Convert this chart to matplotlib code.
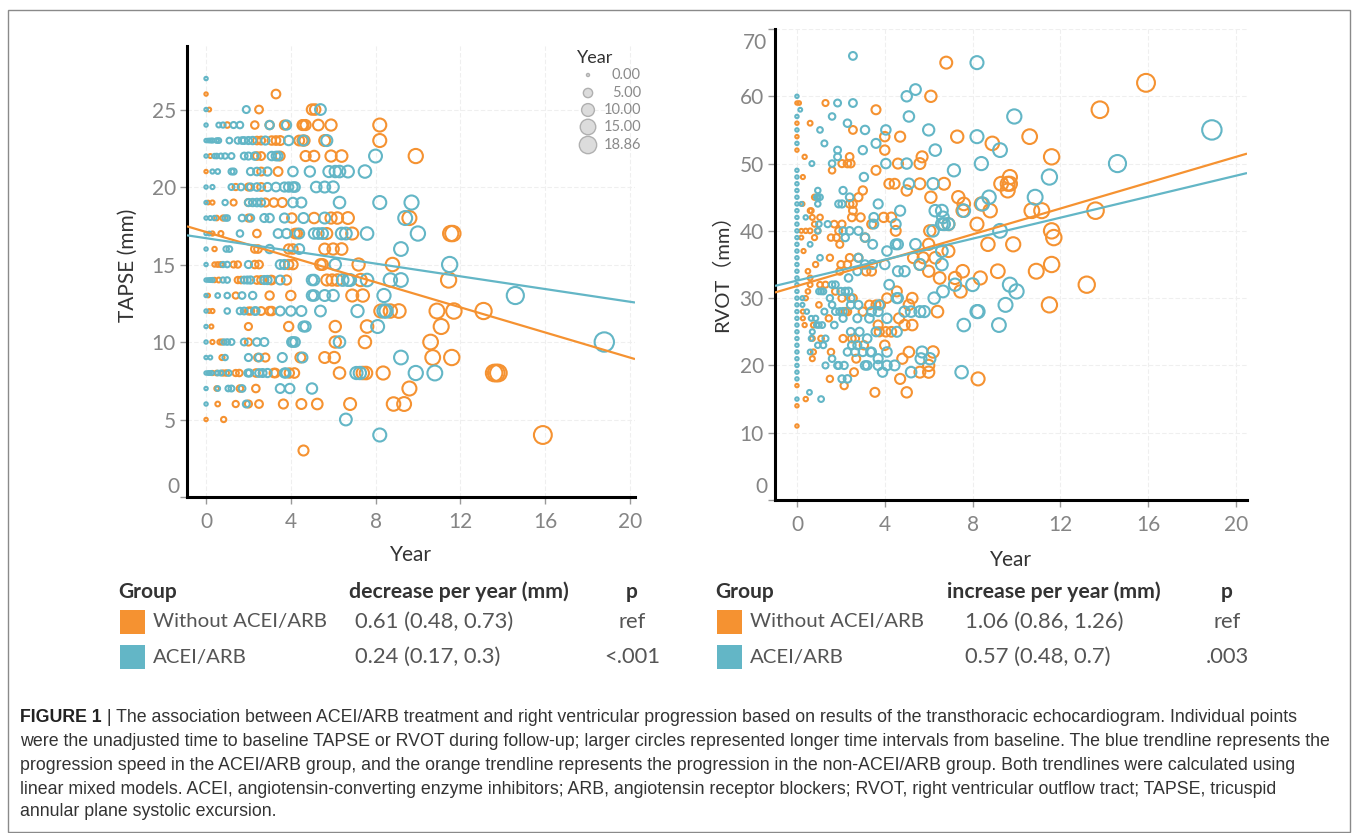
import matplotlib
matplotlib.use("Agg")
import matplotlib.pyplot as plt
from matplotlib.patches import Rectangle
import numpy as np

# ---------------- DATA ----------------
ORANGE = "#F59231"
BLUE = "#63B6C6"

# TAPSE panel: value (mm) -> list of years
tapse_orange_rows = {
    26: [0, 3.3],
    25: [0.15, 2.5, 5.0, 5.15],
    24: [1.0, 2.3, 3.0, 3.7, 4.55, 4.6, 4.7, 5.3, 5.9, 8.2],
    23: [2.4, 2.6, 3.1, 3.3, 3.5, 4.4, 4.55, 4.65, 5.6, 8.2],
    22: [0.2, 2.4, 2.6, 3.5, 4.7, 5.1, 5.9, 6.4, 9.9],
    21: [0, 2.6, 3.4],
    20: [1.4, 2.0, 2.6],
    19: [0.1, 0.3, 1.3, 2.0, 2.8, 3.2, 3.6],
    18: [0.5, 0.8, 2.0, 4.05, 5.1, 5.9, 6.2, 6.7, 9.6],
    17: [0.3, 0.7, 2.4, 4.2, 4.3, 5.7, 6.9, 11.55, 11.65],
    16: [0.4, 2.3, 2.45, 3.9, 4.1, 5.6, 6.0, 6.4],
    15: [0.4, 0.55, 0.7, 1.3, 1.5, 2.3, 2.5, 3.9, 4.1, 5.4, 5.5, 7.2, 8.8],
    14: [0.4, 0.6, 1.5, 1.65, 2.4, 2.6, 3.05, 3.1, 3.8, 5.7, 5.95, 6.2, 7.3, 11.45],
    13: [0.1, 1.4, 3.0, 4.0, 6.9, 7.4],
    12: [0.15, 0.3, 2.0, 2.1, 2.6, 3.0, 3.1, 8.25, 8.7, 9.1, 10.9, 11.7, 13.1],
    11: [0.25, 2.0, 3.9, 6.1, 7.6, 11.1],
    10: [0.3, 0.65, 0.75, 2.0, 6.1, 7.5, 10.6],
    9: [0.75, 2.45, 2.8, 4.45, 5.6, 6.05, 10.7, 11.6],
    8: [0.3, 0.5, 0.8, 0.95, 1.4, 1.57, 2.36, 3.2, 3.27, 3.93, 4.17, 6.3, 7.4,
        7.55, 8.36, 13.6, 13.7, 13.8],
    7: [0.5, 1.6, 2.35, 9.6],
    6: [0.55, 1.4, 2.0, 2.5, 3.65, 4.5, 5.25, 6.8, 8.85, 9.35],
    5: [0, 0.83],
    4: [15.9],
    3: [4.6],
}
tapse_blue_rows = {
    27: [0],
    25: [0, 1.9, 5.4],
    24: [0, 0.6, 0.8, 1.3, 1.6, 3.0, 3.8],
    23: [0, 0.1, 0.2, 0.3, 0.5, 0.6, 1.1, 1.5, 1.7, 1.8, 2.0, 2.2, 2.8, 3.9, 4.6, 5.7],
    22: [0, 0.4, 0.5, 0.7, 0.9, 1.2, 1.8, 2.0, 2.3, 3.1, 3.3, 3.4, 8.0],
    21: [0.3, 0.55, 1.2, 1.3, 2.1, 2.4, 2.9, 4.1, 4.9, 5.8, 6.1, 6.3, 6.7, 7.5],
    20: [0, 0.3, 1.2, 1.65, 2.1, 2.4, 2.9, 3.3, 3.7, 3.9, 4.1, 4.2, 5.2, 5.6, 6.0],
    19: [0, 0.9, 2.0, 2.2, 2.4, 2.6, 4.1, 4.5, 6.3, 8.2, 9.7],
    18: [0, 0.2, 0.4, 0.9, 1.0, 1.7, 2.1, 2.75, 3.0, 3.7, 4.6, 5.6, 9.4],
    17: [0, 0.15, 1.6, 3.4, 3.8, 4.4, 5.1, 5.3, 5.5, 6.4, 6.6, 7.6, 10.0],
    16: [0, 0.95, 1.1, 3.0, 4.4, 9.2],
    15: [0, 0.8, 1.0, 2.0, 3.5, 3.7, 6.1, 11.5],
    14: [0, 0.1, 0.2, 0.3, 0.8, 1.0, 1.8, 1.95, 2.1, 2.75, 2.9, 3.5, 5.0, 5.1,
         6.45, 6.7, 6.8, 7.6, 8.7, 9.2],
    13: [0, 0.55, 1.0, 1.7, 2.2, 5.0, 5.1, 5.6, 6.0, 8.4, 14.6],
    12: [0, 1.0, 1.6, 1.8, 2.3, 2.35, 3.5, 4.0, 4.5, 5.4, 7.15, 8.4, 8.5],
    11: [0, 4.6, 4.7, 8.1],
    10: [0, 0.85, 1.0, 1.2, 1.8, 2.4, 2.75, 4.05, 4.1, 4.2, 6.3, 18.8],
    9: [0, 0.2, 0.9, 2.0, 2.5, 3.6, 4.55, 9.2],
    8: [0, 0.1, 0.15, 0.25, 0.55, 0.7, 1.07, 1.97, 2.05, 2.5, 2.67, 2.9, 3.7,
        3.77, 7.1, 7.26, 9.9, 10.8],
    7: [0, 0.55, 1.05, 1.2, 1.7, 3.5, 3.95, 5.0],
    6: [0, 1.9],
    5: [6.6],
    4: [8.2],
}

# RVOT panel: (year, value mm)
rvot_orange = [
    (6.8, 65), (15.9, 62), (13.8, 58), (11.6, 51), (10.6, 54), (8.9, 53), (7.3, 54),
    (6.1, 60), (5.7, 51), (5.6, 50), (4.7, 54), (4.0, 54), (4.0, 52), (3.6, 58),
    (2.55, 55), (4.6, 50), (3.6, 49), (4.2, 47), (4.45, 47), (5.6, 47), (6.7, 47),
    (5.0, 46), (6.1, 45), (7.35, 45), (7.6, 44), (8.4, 44), (8.8, 43), (7.55, 43),
    (9.7, 48), (9.6, 47), (9.7, 47), (9.6, 46), (9.3, 47), (10.7, 43), (11.15, 43),
    (13.6, 43), (11.6, 40), (11.7, 39), (9.85, 38), (8.7, 38), (8.2, 41), (6.9, 41),
    (6.05, 40), (3.95, 42), (4.3, 42), (4.5, 40), (3.4, 41), (2.8, 45), (3.0, 46),
    (2.55, 44), (2.4, 44), (2.55, 43), (2.5, 42), (2.9, 42), (1.7, 41), (2.05, 41),
    (1.9, 40), (1.55, 39), (1.8, 39), (3.1, 39), (6.0, 38), (1.95, 38), (0.8, 39),
    (0.6, 40), (0.95, 40), (0.4, 40), (0.8, 41), (1.05, 42), (0.7, 42), (0.6, 43),
    (0.8, 45), (1.6, 49), (2.05, 50), (2.3, 50), (2.45, 50), (2.4, 51), (0.6, 56),
    (1.3, 59), (0.35, 51), (0, 59), (0.1, 59), (0, 56), (0, 54), (0, 52), (0.27, 48),
    (0.25, 44), (0.65, 43), (0.2, 40), (0.2, 39),
    (13.2, 32), (11.6, 35), (10.9, 34), (11.5, 29), (9.15, 34), (8.35, 33), (7.55, 34),
    (8.25, 18), (7.2, 33), (7.45, 31), (6.5, 33), (6.0, 34), (6.4, 28), (6.2, 22),
    (6.0, 20), (6.0, 19), (5.6, 19), (5.1, 22), (4.8, 21), (4.7, 18), (5.0, 16),
    (3.55, 16), (4.0, 23), (2.6, 19), (2.15, 17), (1.5, 18), (2.7, 21), (1.55, 22),
    (3.05, 23), (2.1, 24), (2.5, 24), (2.65, 24), (3.7, 26), (3.75, 25), (4.05, 25),
    (4.3, 25), (4.65, 27), (4.9, 26), (5.25, 26), (1.45, 27), (1.0, 29), (2.2, 28),
    (2.3, 28), (3.3, 29), (3.6, 29), (3.0, 28), (5.1, 29), (5.25, 30), (4.1, 30),
    (4.55, 31), (3.8, 29), (2.05, 30), (2.55, 30), (1.75, 31), (1.05, 32), (1.3, 32),
    (1.95, 34), (3.15, 34), (3.4, 34), (2.0, 35), (2.3, 35), (1.5, 36), (2.4, 36),
    (2.8, 36), (5.6, 35), (5.3, 36), (5.75, 36), (6.3, 36), (6.9, 37), (0, 17),
    (0, 14), (0, 11), (0.4, 15), (0.27, 28), (0.27, 27), (0.35, 26), (0.7, 24),
    (0.75, 22), (0.7, 21), (1.1, 24), (0.75, 26), (0.4, 30), (0.5, 31), (0.6, 33),
    (0.85, 35), (0.3, 37), (0.5, 34), (0.6, 32),
]
rvot_blue = [
    (2.55, 66), (8.2, 65), (18.9, 55), (14.6, 50), (11.5, 48), (9.9, 57), (9.25, 52),
    (8.2, 54), (8.4, 50), (7.15, 49), (5.4, 61), (5.0, 60), (5.1, 57), (6.0, 55),
    (6.3, 52), (5.0, 50), (4.05, 55), (3.6, 53), (3.1, 55), (2.3, 56), (3.0, 52),
    (4.05, 50), (3.05, 48), (5.1, 47), (6.2, 47), (8.75, 45), (8.45, 44), (7.6, 43),
    (6.3, 43), (6.6, 43), (10.85, 45), (9.25, 40), (6.6, 41), (6.7, 41), (6.9, 41),
    (6.65, 42), (6.2, 40), (4.7, 43), (3.7, 44), (3.5, 42), (3.5, 41), (4.5, 41),
    (2.4, 45), (2.1, 46), (1.9, 44), (2.05, 44), (1.4, 41), (2.1, 40), (2.4, 40),
    (2.8, 40), (2.2, 39), (3.1, 39), (3.45, 38), (4.5, 38), (4.6, 38), (5.4, 38),
    (0.6, 38), (0.95, 40), (0.4, 42), (1.0, 41), (0.95, 44), (0.9, 45), (0.95, 45),
    (1.05, 45), (0.95, 46), (1.6, 50), (1.85, 51), (1.85, 52), (1.25, 53), (1.05, 55),
    (1.6, 57), (1.85, 59), (2.55, 59), (0.68, 50),
    (0, 60), (0.15, 58), (0, 57), (0, 55), (0, 53), (0, 49), (0, 48), (0, 47), (0, 46),
    (0, 45), (0, 44), (0.2, 44), (0, 43), (0, 42), (0, 41), (0, 40), (0, 39), (0, 38),
    (0, 37), (0, 36), (0, 35), (0, 34), (0, 33), (0, 32), (0, 31), (0, 30), (0, 29),
    (0, 28), (0, 27), (0, 26), (0, 25), (0, 24), (0, 23), (0, 22), (0, 21), (0, 20),
    (0, 19), (0, 18), (0, 15), (0.57, 16), (1.1, 15),
    (9.7, 32), (10.0, 31), (9.5, 29), (9.2, 26), (8.0, 32), (8.2, 28), (8.25, 28),
    (7.6, 26), (7.5, 19), (7.2, 32), (6.6, 35), (6.65, 31), (6.25, 30), (5.7, 22),
    (5.65, 21), (6.05, 21), (5.2, 19), (4.45, 20), (4.1, 20), (3.9, 19), (3.7, 20),
    (4.1, 22), (3.7, 21), (3.4, 22), (3.1, 20), (3.2, 20), (2.15, 20), (1.9, 20),
    (1.85, 20), (1.3, 20), (1.6, 21), (2.3, 22), (2.65, 22), (3.0, 22), (3.35, 22),
    (2.5, 23), (2.75, 23), (3.2, 24), (2.45, 25), (2.85, 25), (3.6, 25), (4.55, 25),
    (4.1, 27), (3.3, 27), (1.7, 26), (2.75, 27), (2.1, 27), (2.05, 18), (2.3, 18),
    (1.25, 28), (1.75, 28), (1.95, 28), (2.1, 28), (2.45, 29), (3.4, 28), (3.7, 28),
    (3.75, 29), (4.9, 28), (5.2, 28), (5.6, 28), (5.8, 28), (4.55, 30), (4.6, 30),
    (4.2, 32), (4.6, 34), (4.9, 34), (2.45, 30), (2.8, 29), (1.5, 30), (1.6, 29),
    (2.0, 31), (2.2, 31), (2.35, 31), (1.0, 31), (1.1, 31), (1.2, 31), (1.6, 32),
    (1.75, 32), (2.35, 33), (2.75, 34), (3.1, 35), (3.45, 35), (4.0, 35), (1.05, 36),
    (2.8, 36), (5.6, 35), (6.6, 37), (4.1, 37), (0.25, 30), (0.25, 29), (0.45, 28),
    (0.65, 27), (0.85, 27), (0.65, 24), (0.95, 23), (1.2, 23), (1.3, 24), (0.9, 26),
    (1.0, 26), (1.15, 26), (0.6, 22), (0.7, 25),
]

# trendlines (intercept, slope)
tapse_trend_orange = (17.1, -0.405)
tapse_trend_blue = (16.7, -0.205)
rvot_trend_orange = (31.8, 0.96)
rvot_trend_blue = (32.6, 0.78)

legend_years = [0.00, 5.00, 10.00, 15.00, 18.86]
x_ticks = [0, 4, 8, 12, 16, 20]
tapse_yticks = [0, 5, 10, 15, 20, 25]
rvot_yticks = [0, 10, 20, 30, 40, 50, 60, 70]

tables = [
    {"metric": "decrease per year (mm)",
     "rows": [("Without ACEI/ARB", "0.61 (0.48, 0.73)", "ref"),
              ("ACEI/ARB", "0.24 (0.17, 0.3)", "<.001")]},
    {"metric": "increase per year (mm)",
     "rows": [("Without ACEI/ARB", "1.06 (0.86, 1.26)", "ref"),
              ("ACEI/ARB", "0.57 (0.48, 0.7)", ".003")]},
]

caption_lines = [
    "The association between ACEI/ARB treatment and right ventricular progression based on results of the transthoracic echocardiogram. Individual points",
    "were the unadjusted time to baseline TAPSE or RVOT during follow-up; larger circles represented longer time intervals from baseline. The blue trendline represents the",
    "progression speed in the ACEI/ARB group, and the orange trendline represents the progression in the non-ACEI/ARB group. Both trendlines were calculated using",
    "linear mixed models. ACEI, angiotensin-converting enzyme inhibitors; ARB, angiotensin receptor blockers; RVOT, right ventricular outflow tract; TAPSE, tricuspid",
    "annular plane systolic excursion.",
]

# ---------------- FIGURE ----------------
W, H = 1358, 833
plt.rcParams["font.family"] = ["Lato", "DejaVu Sans"]
fig = plt.figure(figsize=(W / 100, H / 100), dpi=100)

TICK_COL = "#858585"


def fx(x):
    return x / W


def fy(y):
    return 1 - y / H


def size(year):
    return 6 + 10.0 * np.asarray(year, dtype=float)


def rows_to_xy(rows):
    xs, ys = [], []
    for v, yrs in rows.items():
        for yr in yrs:
            xs.append(yr)
            ys.append(v)
    return np.array(xs), np.array(ys)


def style_axes(ax, xlim, ylim, yticks):
    ax.set_xlim(*xlim)
    ax.set_ylim(*ylim)
    ax.set_xticks(x_ticks)
    ax.set_yticks(yticks)
    for s in ["top", "right"]:
        ax.spines[s].set_visible(False)
    for s in ["left", "bottom"]:
        ax.spines[s].set_color("black")
        ax.spines[s].set_linewidth(2.2)
    ax.tick_params(axis="both", direction="out", length=5, width=1,
                   color="#999999", labelcolor=TICK_COL, labelsize=15)
    ax.tick_params(axis="x", pad=6)
    ax.tick_params(axis="y", pad=3)
    ax.grid(True, color="#efefef", linewidth=0.8, linestyle=(0, (4, 2)))
    ax.set_axisbelow(True)


# ---- Left panel: TAPSE ----
axL = fig.add_axes([fx(187), fy(497), fx(635 - 187), (497 - 46) / H])
style_axes(axL, (-0.9, 20.25), (0, 29.1), tapse_yticks)
for rows, col in [(tapse_orange_rows, ORANGE), (tapse_blue_rows, BLUE)]:
    xs, ys = rows_to_xy(rows)
    axL.scatter(xs, ys, s=size(xs), facecolors="none", edgecolors=col,
                linewidths=1.5, zorder=3)
xx = np.array(axL.get_xlim())
for (b0, b1), col in [(tapse_trend_orange, ORANGE), (tapse_trend_blue, BLUE)]:
    axL.plot(xx, b0 + b1 * xx, color=col, lw=1.6, zorder=4, solid_capstyle="butt")
axL.set_yticklabels([""] + [str(t) for t in tapse_yticks[1:]])

# ---- Right panel: RVOT ----
axR = fig.add_axes([fx(775), fy(500), fx(1247 - 775), (500 - 29) / H])
style_axes(axR, (-1.0, 20.5), (0, 70.0), rvot_yticks)
for data, col in [(rvot_orange, ORANGE), (rvot_blue, BLUE)]:
    arr = np.array(data, dtype=float)
    axR.scatter(arr[:, 0], arr[:, 1], s=size(arr[:, 0]), facecolors="none",
                edgecolors=col, linewidths=1.5, zorder=3)
xx = np.array(axR.get_xlim())
for (b0, b1), col in [(rvot_trend_orange, ORANGE), (rvot_trend_blue, BLUE)]:
    axR.plot(xx, b0 + b1 * xx, color=col, lw=1.6, zorder=4, solid_capstyle="butt")
axR.set_yticklabels([""] + [str(t) for t in rvot_yticks[1:-1]] + [""])

# end tick labels shifted inside (Tableau style)
fig.text(fx(179), fy(487), "0", ha="right", va="center", fontsize=15, color=TICK_COL)
fig.text(fx(767), fy(487), "0", ha="right", va="center", fontsize=15, color=TICK_COL)
fig.text(fx(767), fy(43), "70", ha="right", va="center", fontsize=15, color=TICK_COL)

# axis titles
fig.text(fx(411), fy(555), "Year", ha="center", va="center", fontsize=15, color="#333333")
fig.text(fx(1011), fy(560), "Year", ha="center", va="center", fontsize=15, color="#333333")
fig.text(fx(128), fy(265), "TAPSE (mm)", ha="center", va="center", rotation=90,
         fontsize=15, color="#333333")
fig.text(fx(722), fy(268), "RVOT\uff08mm\uff09", ha="center", va="center", rotation=90,
         fontsize=14.5, color="#333333", family=["Lato", "Noto Sans CJK SC"])

# size legend (left panel)
fig.text(fx(595), fy(58), "Year", ha="center", va="center", fontsize=13,
         color="#333333")
leg_y = [75, 93, 110, 127, 145]
for yr, ypx in zip(legend_years, leg_y):
    fig.text(fx(641), fy(ypx), f"{yr:.2f}", ha="right", va="center", fontsize=10.5,
             color="#8a8a8a")
legend_ax = fig.add_axes([0, 0, 1, 1], facecolor="none")
legend_ax.set_xlim(0, W)
legend_ax.set_ylim(H, 0)
legend_ax.axis("off")
legend_ax.scatter([588] * len(leg_y), leg_y, s=[s * 0.8 for s in size(legend_years)],
                  facecolors="#dcdcdc", edgecolors="#b0b0b0", linewidths=1.0, zorder=5)

# ---------------- TABLES ----------------
table_x = [
    {"group": 118, "sq": 120, "name": 153, "head": 349, "val": 355, "p": 632},
    {"group": 715, "sq": 717, "name": 750, "head": 947, "val": 965, "p": 1227},
]
row_y = [622, 657]
sq_colors = [ORANGE, BLUE]
for tb, pos in zip(tables, table_x):
    fig.text(fx(pos["group"]), fy(592), "Group", ha="left", va="center", fontsize=15,
             fontweight="bold", color="#333333")
    fig.text(fx(pos["head"]), fy(592), tb["metric"], ha="left", va="center",
             fontsize=15.3, fontweight="bold", color="#333333")
    fig.text(fx(pos["p"]), fy(592), "p", ha="center", va="center", fontsize=15,
             fontweight="bold", color="#333333")
    for (name, val, p), ry, sc in zip(tb["rows"], row_y, sq_colors):
        legend_ax.add_patch(Rectangle((pos["sq"], ry - 12), 25, 24, facecolor=sc,
                                      edgecolor="none"))
        fig.text(fx(pos["name"]), fy(ry), name, ha="left", va="center", fontsize=14.7,
                 color="#555555")
        fig.text(fx(pos["val"]), fy(ry), val, ha="left", va="center", fontsize=15.8,
                 color="#555555")
        fig.text(fx(pos["p"]), fy(ry), p, ha="center", va="center", fontsize=15.8,
                 color="#555555")

# ---------------- CAPTION ----------------
cap_font = ["Liberation Sans", "DejaVu Sans"]
cap_fs = 12.8
cap_y = [717, 741, 765, 789, 812]
renderer = fig.canvas.get_renderer()
t_bold = fig.text(fx(20), fy(cap_y[0]), "FIGURE 1", ha="left", va="center",
                  fontsize=cap_fs, fontweight="bold", color="#222222", family=cap_font)
bb = t_bold.get_window_extent(renderer=renderer)
fig.text(bb.x1 / W, fy(cap_y[0]), " | " + caption_lines[0], ha="left", va="center",
         fontsize=cap_fs, color="#333333", family=cap_font)
for line, yy in zip(caption_lines[1:], cap_y[1:]):
    fig.text(fx(20), fy(yy), line, ha="left", va="center", fontsize=cap_fs,
             color="#333333", family=cap_font)

# border
legend_ax.add_patch(Rectangle((8, 10), 1342, 822, facecolor="none", edgecolor="#8a8a8a",
                              linewidth=1.0, clip_on=False))

fig.savefig("out.png", dpi=100)
